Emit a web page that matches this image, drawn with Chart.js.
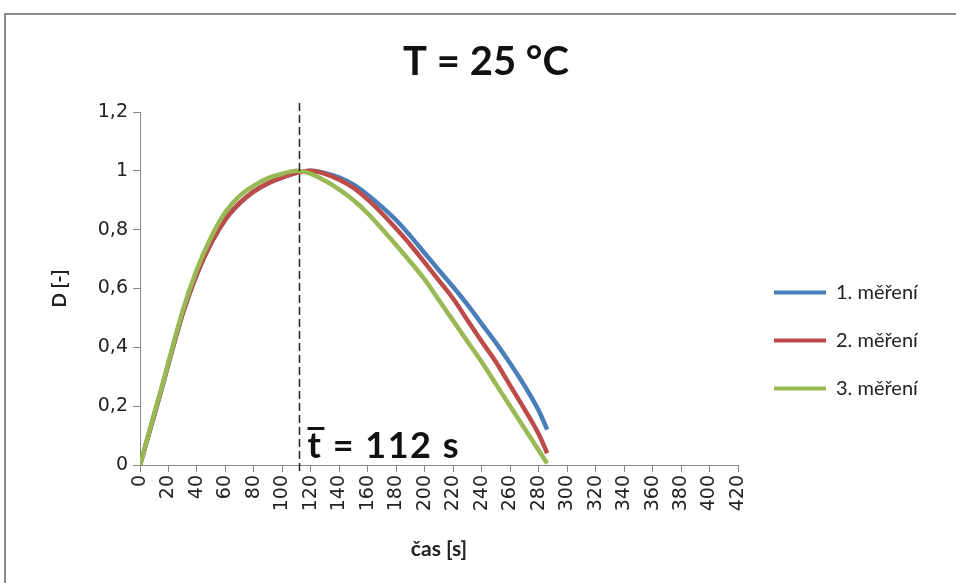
<!DOCTYPE html>
<html><head><meta charset="utf-8">
<script src="https://cdn.jsdelivr.net/npm/chart.js@4.4.1/dist/chart.umd.min.js"></script>
<style>
html,body{margin:0;padding:0;background:#fff;}
#wrap{position:relative;width:956px;height:583px;overflow:hidden;}
#frame{position:absolute;left:4px;top:13px;width:990px;height:600px;border-top:2px solid #8a8a8a;border-left:2px solid #8a8a8a;pointer-events:none;}
canvas{display:block;}
</style></head><body>
<div id="wrap"><canvas id="c" width="956" height="583"></canvas><div id="frame"></div></div>
<script>
const chartTitle = 'T = 25 °C';
const seriesNames = ['1. měření', '2. měření', '3. měření'];
const seriesColors = ['#4a7ebb', '#be4b48', '#98b954'];
const times = [0,5,10,15,20,30,40,50,60,70,80,90,100,110,120,130,140,150,160,170,180,190,200,210,220,230,240,250,260,270,280,286];
const values1 = [0,0.085,0.17,0.255,0.345,0.515,0.65,0.755,0.835,0.89,0.93,0.958,0.978,0.993,1.0,0.992,0.977,0.953,0.918,0.877,0.832,0.778,0.72,0.662,0.605,0.545,0.48,0.415,0.345,0.27,0.185,0.12];
const values2 = [0,0.085,0.17,0.255,0.345,0.515,0.65,0.755,0.835,0.89,0.93,0.958,0.978,0.993,1.0,0.99,0.97,0.942,0.902,0.855,0.803,0.748,0.688,0.627,0.565,0.492,0.42,0.35,0.27,0.19,0.105,0.04];
const values3 = [0,0.088,0.175,0.26,0.35,0.525,0.665,0.775,0.86,0.915,0.95,0.975,0.99,1.0,0.99,0.966,0.936,0.9,0.855,0.802,0.747,0.69,0.63,0.56,0.49,0.42,0.35,0.275,0.2,0.125,0.05,0.005];
const xTickLabels = ['0','20','40','60','80','100','120','140','160','180','200','220','240','260','280','300','320','340','360','380','400','420'];
const yTickLabels = ['0','0,2','0,4','0,6','0,8','1','1,2'];
const xTitle = 'čas [s]';
const yTitle = 'D [-]';
const meanTime = 112;
const meanSymbol = 't';
const meanRest = ' = 112 s';

const seriesValues = [values1, values2, values3];
const tickFont = "'DejaVu Sans', Verdana, sans-serif";

const meanLinePlugin = {
  id: 'meanLine',
  afterDatasetsDraw(chart) {
    const {ctx, chartArea, scales} = chart;
    const px = Math.round(scales.x.getPixelForValue(meanTime)) + 0.5;
    ctx.save();
    ctx.strokeStyle = '#222';
    ctx.lineWidth = 1.5;
    ctx.setLineDash([8, 4]);
    ctx.beginPath();
    ctx.moveTo(px, chartArea.top - 9);
    ctx.lineTo(px, chartArea.bottom + 8);
    ctx.stroke();
    ctx.setLineDash([]);
    ctx.font = 'bold 36px Lato';
    try { ctx.letterSpacing = '1.5px'; } catch (e) {}
    ctx.fillStyle = '#111';
    ctx.textBaseline = 'alphabetic';
    ctx.textAlign = 'left';
    const tx = px + 8, ty = chartArea.bottom - 7;
    ctx.fillText(meanSymbol, tx, ty);
    const w = ctx.measureText(meanSymbol).width;
    ctx.fillText(meanRest, tx + w, ty);
    ctx.fillRect(tx, ty - 31, w + 2, 3);
    ctx.restore();
  }
};

const legendPlace = {
  id: 'legendPlace',
  beforeInit(chart) {
    const fit = chart.legend.fit;
    chart.legend.fit = function () { fit.call(this); this.width = 218; };
  },
  afterLayout(chart) {
    const l = chart.legend;
    l.left += 8; l.right += 8; l.top += 52; l.bottom += 52;
  }
};

new Chart(document.getElementById('c'), {
  type: 'scatter',
  data: {
    datasets: seriesNames.map((name, k) => ({
      label: name,
      data: times.map((t, i) => ({x: t, y: seriesValues[k][i]})),
      showLine: true,
      borderColor: seriesColors[k],
      backgroundColor: seriesColors[k],
      borderWidth: 4.5,
      pointRadius: 0,
      cubicInterpolationMode: 'monotone',
      order: 3 - k
    }))
  },
  options: {
    responsive: false,
    animation: false,
    layout: {padding: {left: 16, right: 0, top: 0, bottom: 0}},
    plugins: {
      tooltip: {enabled: false},
      title: {
        display: true, text: chartTitle, color: '#111',
        font: {family: 'Lato', size: 40, weight: 'bold', lineHeight: 1.2},
        padding: {top: 38, bottom: 26}
      },
      legend: {
        display: true, position: 'right', fullSize: false,
        labels: {
          boxWidth: 52, boxHeight: 4, padding: 28, color: '#222',
          font: {family: 'Lato', size: 20},
          sort: (a, b) => a.datasetIndex - b.datasetIndex,
          generateLabels(chart) {
            const items = Chart.defaults.plugins.legend.labels.generateLabels(chart);
            items.forEach(it => { it.lineWidth = 0; it.fillStyle = it.strokeStyle; });
            return items;
          }
        }
      }
    },
    scales: {
      x: {
        type: 'linear', min: 0, max: 420,
        ticks: {
          stepSize: 20, autoSkip: false, minRotation: 90, maxRotation: 90, padding: 3,
          color: '#222', font: {family: tickFont, size: 19},
          callback: (v, i) => xTickLabels[i] ?? String(v)
        },
        grid: {display: true, drawOnChartArea: false, drawTicks: true, tickLength: 7, color: '#868686'},
        border: {display: true, color: '#868686', width: 1},
        title: {display: true, text: xTitle, color: '#222', font: {family: 'Lato', size: 21, weight: 'bold'}, padding: {top: 0, bottom: 21}},
        afterFit(s) { s.height = 118; }
      },
      y: {
        min: 0, max: 1.2,
        ticks: {
          stepSize: 0.2, padding: 5, color: '#222', font: {family: tickFont, size: 19},
          callback: (v, i) => yTickLabels[i] ?? String(v)
        },
        grid: {display: true, drawOnChartArea: false, drawTicks: true, tickLength: 7, color: '#868686'},
        border: {display: true, color: '#868686', width: 1},
        title: {display: true, text: yTitle, color: '#222', font: {family: 'Lato', size: 19, weight: 'bold'}, padding: {top: 32, bottom: 0}},
        afterFit(s) { s.width = 124; }
      }
    }
  },
  plugins: [meanLinePlugin, legendPlace]
});
</script>
</body></html>
